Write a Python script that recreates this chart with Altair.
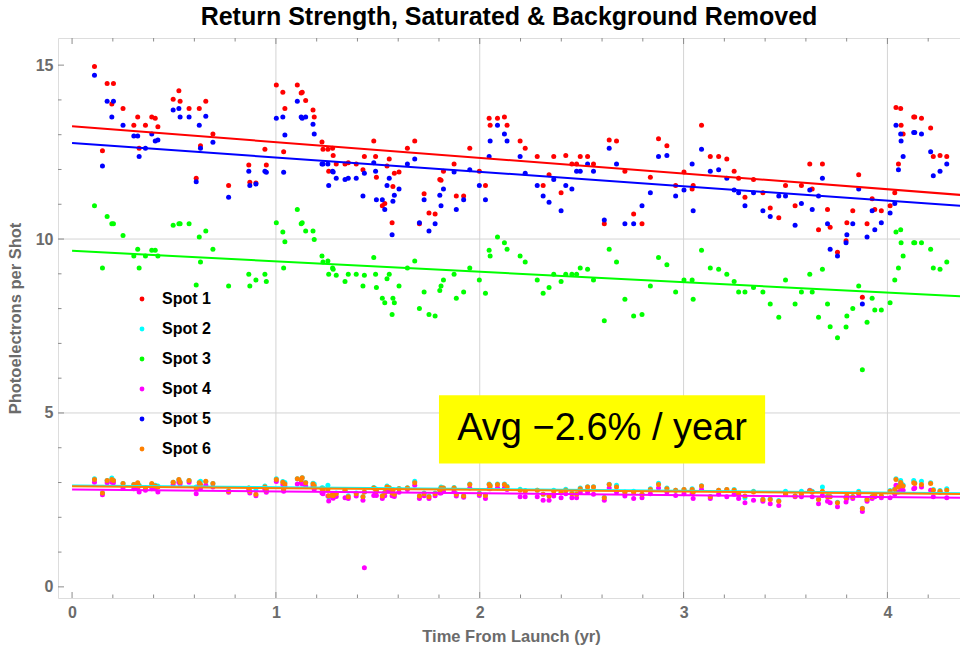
import altair as alt
import pandas as pd

# ---------------- data ----------------
t = [0.110,0.149,0.172,0.195,0.203,0.250,0.303,0.322,0.329,0.360,0.391,0.408,0.421,0.496,0.524,0.530,0.574,0.609,0.624,0.630,
     0.656,0.691,0.768,0.867,0.872,0.902,0.946,0.953,1.002,1.034,1.038,1.044,1.105,1.124,1.129,1.146,1.182,1.188,
     1.226,1.231,1.255,1.259,1.278,1.281,1.296,1.339,1.355,1.394,1.427,1.434,1.480,1.489,1.493,1.522,1.534,1.545,1.556,1.570,
     1.574,1.581,1.604,1.645,1.681,1.704,1.727,1.751,1.781,1.804,1.810,1.822,1.874,1.885,1.921,1.951,1.998,2.028,2.046,2.051,
     2.087,2.121,2.134,2.198,2.223,2.282,2.311,2.340,2.363,2.399,2.422,2.452,2.475,2.493,2.529,2.558,2.611,2.635,2.671,2.712,
     2.755,2.796,2.837,2.877,2.918,2.961,3.002,3.042,3.047,3.088,3.131,3.172,3.212,3.248,3.270,3.301,3.343,3.389,3.425,3.467,
     3.500,3.547,3.578,3.619,3.631,3.662,3.681,3.706,3.719,3.755,3.801,3.797,3.830,3.859,3.877,3.900,3.925,3.938,3.970,4.013,
     4.036,4.042,4.054,4.065,4.067,4.077,4.129,4.134,4.167,4.212,4.225,4.258,4.291]

spot1 = [14.96,12.54,14.47,13.88,14.47,13.75,13.27,13.51,12.61,13.27,13.51,13.47,13.23,14.02,14.26,13.96,13.75,11.75,13.75,12.68,
         13.96,13.02,11.54,12.13,11.63,11.61,12.58,12.13,14.43,14.22,12.51,13.75,14.43,14.20,14.22,13.98,13.71,13.51,
         12.79,12.58,12.58,11.95,12.61,12.40,12.16,12.16,12.19,12.16,11.99,12.37,12.82,12.37,11.78,10.96,11.02,12.10,12.30,10.47,
         11.51,11.89,11.93,12.61,12.82,10.44,11.30,10.75,10.72,11.71,11.69,11.95,12.16,11.24,11.24,12.61,11.95,11.54,13.47,13.27,
         13.47,13.51,13.27,12.82,12.61,12.37,11.54,11.85,12.37,11.33,12.40,12.16,12.16,12.37,12.37,12.16,10.44,12.85,12.82,11.95,
         10.72,10.44,11.78,12.88,12.68,11.54,11.93,11.44,11.54,13.27,12.37,12.37,12.30,11.95,11.75,11.20,11.71,11.33,10.89,10.61,
         11.54,10.96,11.54,12.16,11.44,10.27,12.16,10.85,10.34,9.62,10.47,9.95,10.81,11.85,8.33,10.44,11.16,10.85,10.81,10.96,
         11.33,13.78,12.16,13.75,13.27,13.02,13.51,13.51,13.47,13.19,12.37,12.40,12.37]

spot2 = [3.11,2.70,3.06,3.13,3.06,2.97,2.94,2.97,2.92,2.84,2.95,2.92,2.90,3.01,3.08,3.01,3.06,2.87,3.01,3.04,
         3.02,2.97,2.77,2.84,2.75,2.78,2.90,2.80,3.11,3.03,2.82,3.00,3.11,3.08,3.14,3.00,2.98,2.96,
         2.85,2.84,2.92,2.59,2.68,2.63,2.70,2.78,2.62,2.70,2.59,2.73,2.86,2.82,2.78,2.62,2.72,2.90,2.86,2.71,
         2.80,2.66,2.83,2.85,3.04,2.62,2.70,2.61,2.70,2.80,2.87,2.84,2.86,2.68,2.62,2.96,2.70,2.64,2.96,2.92,
         2.96,2.96,2.89,2.81,2.77,2.78,2.66,2.63,2.78,2.73,2.81,2.70,2.68,2.84,2.88,2.88,2.58,2.95,2.92,2.73,
         2.75,2.66,2.82,2.98,2.84,2.78,2.80,2.82,2.73,2.91,2.60,2.78,2.80,2.80,2.68,2.56,2.75,2.52,2.53,2.48,
         2.75,2.62,2.75,2.78,2.75,2.52,2.87,2.61,2.60,2.43,2.63,2.57,2.60,2.75,2.26,2.52,2.60,2.65,2.62,2.77,
         2.82,3.11,2.92,3.06,2.99,2.93,3.06,2.99,3.04,2.99,2.80,2.77,2.82]

spot3 = [10.96,9.17,10.65,10.44,10.44,10.10,9.51,9.71,9.17,9.51,9.68,9.68,9.51,10.40,10.44,10.44,10.44,8.68,10.06,9.34,
         10.23,9.71,8.65,8.99,8.65,8.82,8.99,8.78,10.47,10.20,9.17,9.92,10.85,10.44,10.47,10.23,10.23,9.99,
         9.51,9.34,9.37,8.99,9.17,9.13,8.96,8.78,8.99,8.99,8.65,8.96,9.47,8.99,8.61,8.30,8.17,8.86,8.99,7.83,
         8.30,8.17,8.65,9.17,9.37,8.00,8.48,7.83,7.79,8.52,8.65,8.82,8.99,8.30,8.48,9.17,8.82,8.44,9.68,9.51,
         10.06,9.89,9.71,9.51,9.34,8.82,8.44,8.61,8.99,8.78,8.99,8.99,8.99,9.17,9.13,8.82,7.65,9.71,9.34,8.27,
         7.79,7.83,8.65,9.47,9.26,8.48,8.82,8.82,8.27,9.68,9.17,9.13,8.99,8.78,8.48,8.48,8.61,8.48,8.13,7.75,
         8.82,8.13,8.48,8.99,8.48,7.75,9.13,8.13,7.48,7.16,7.79,7.47,8.00,8.65,6.24,7.61,8.30,7.96,7.96,8.17,
         8.82,10.20,9.17,10.27,9.89,9.51,9.89,9.89,9.89,9.71,9.17,9.13,9.34]

spot4 = [3.01,2.65,2.99,3.01,2.99,2.84,2.82,2.82,2.73,2.78,2.82,2.82,2.73,2.94,3.01,2.96,3.01,2.68,2.92,2.82,
         2.92,2.87,2.72,2.78,2.70,2.62,2.80,2.72,3.03,2.94,2.75,2.90,2.96,3.00,2.96,2.90,2.90,2.80,
         2.70,2.68,2.61,2.47,2.58,2.55,2.60,2.56,2.54,2.61,2.49,0.55,2.63,2.68,2.63,2.54,2.62,2.75,2.75,2.62,
         2.68,2.60,2.72,2.80,2.92,2.54,2.62,2.54,2.62,2.70,2.70,2.75,2.75,2.61,2.58,2.84,2.63,2.54,2.82,2.82,
         2.85,2.84,2.80,2.59,2.59,2.59,2.49,2.49,2.61,2.56,2.68,2.56,2.56,2.72,2.73,2.66,2.49,2.84,2.73,2.61,
         2.54,2.56,2.68,2.84,2.73,2.63,2.68,2.68,2.54,2.80,2.54,2.66,2.59,2.66,2.54,2.42,2.49,2.46,2.39,2.34,
         2.66,2.59,2.59,2.77,2.59,2.39,2.63,2.46,2.42,2.30,2.54,2.44,2.54,2.66,2.17,2.46,2.54,2.59,2.56,2.56,
         2.66,2.92,2.73,2.85,2.82,2.78,2.82,2.84,2.87,2.78,2.59,2.72,2.56]

spot5 = [14.71,12.10,13.96,13.51,13.96,13.27,12.96,12.96,12.37,12.61,13.02,12.82,12.85,13.71,13.75,13.51,13.51,11.65,13.27,12.61,
         13.53,12.78,11.20,11.95,11.54,11.58,11.95,11.92,13.47,13.51,11.92,12.99,13.96,13.51,13.47,13.51,13.30,13.02,
         12.16,12.16,12.16,11.54,11.95,11.93,11.75,11.71,11.75,11.75,11.24,11.89,12.19,11.95,11.13,11.13,10.85,11.54,11.75,10.12,
         11.09,11.26,11.44,12.16,12.30,10.47,11.13,10.23,10.44,11.26,10.96,11.44,11.93,10.85,11.13,11.99,11.54,11.13,12.37,12.82,
         13.27,13.02,12.82,12.37,11.89,11.54,11.24,11.06,11.71,10.81,11.54,11.44,11.95,11.95,12.16,11.95,10.55,12.61,12.16,10.44,
         10.44,10.96,11.33,12.37,12.40,11.24,11.41,12.16,10.81,12.58,11.95,11.99,11.75,11.41,11.33,10.96,11.33,10.81,10.65,11.24,
         11.24,10.40,11.02,11.41,10.85,11.24,11.75,10.44,9.71,9.51,10.12,9.89,10.44,11.44,8.13,10.06,10.81,10.27,10.47,10.75,
         11.02,13.27,11.99,13.02,12.82,12.37,13.06,13.06,13.02,12.51,11.82,11.95,12.16]

spot6 = [3.09,2.70,3.06,3.09,3.06,2.97,2.94,2.99,2.90,2.84,2.97,2.90,2.87,3.01,3.09,3.01,3.06,2.82,2.99,2.94,
         3.04,2.97,2.75,2.84,2.75,2.66,2.87,2.78,3.09,3.01,2.80,2.96,3.11,3.08,3.14,2.99,2.96,2.90,
         2.82,2.78,2.80,2.62,2.66,2.62,2.68,2.78,2.59,2.68,2.59,2.73,2.84,2.80,2.75,2.61,2.71,2.87,2.84,2.70,
         2.78,2.66,2.82,2.84,2.99,2.61,2.68,2.59,2.68,2.78,2.84,2.84,2.84,2.66,2.61,2.94,2.68,2.63,2.94,2.90,
         2.94,2.94,2.87,2.78,2.75,2.78,2.66,2.61,2.75,2.71,2.78,2.68,2.66,2.82,2.87,2.87,2.56,2.94,2.87,2.71,
         2.71,2.66,2.80,2.94,2.82,2.78,2.80,2.80,2.73,2.90,2.59,2.78,2.80,2.78,2.66,2.61,2.73,2.51,2.51,2.46,
         2.66,2.61,2.66,2.76,2.73,2.51,2.75,2.59,2.59,2.42,2.61,2.56,2.59,2.71,2.25,2.51,2.59,2.63,2.61,2.75,
         2.80,3.09,2.87,3.00,2.95,2.90,2.99,2.97,2.94,2.97,2.78,2.75,2.78]

spot_names = ["Spot 1", "Spot 2", "Spot 3", "Spot 4", "Spot 5", "Spot 6"]
spot_colors = ["#FF0000", "#00FFFF", "#00FF00", "#FF00FF", "#0000FF", "#FF8000"]

# linear trend lines: value at t=0 and at t=4.4
fit_t = [0.0, 4.4]
fit_start = [13.24, 2.915, 9.66, 2.80, 12.76, 2.89]
fit_end = [11.25, 2.69, 8.34, 2.56, 10.94, 2.67]

x_major = [0, 1, 2, 3, 4]
x_minor = [0.2, 0.4, 0.6, 0.8, 1.2, 1.4, 1.6, 1.8, 2.2, 2.4, 2.6, 2.8, 3.2, 3.4, 3.6, 3.8, 4.2]
y_major = [0, 5, 10, 15]
y_minor = [1, 2, 3, 4, 6, 7, 8, 9, 11, 12, 13, 14]
x_grid = [1, 2, 3, 4]
y_grid = [5, 10]

note_text = "Avg \u22122.6% / year"
note_box_x = [1.80, 3.40]
note_box_y = [3.55, 5.51]

title_text = "Return Strength, Saturated & Background Removed"
x_title = "Time From Launch (yr)"
y_title = "Photoelectrons per Shot"

# ---------------- layout ----------------
W, H = 902, 560
XDOM = [-0.069, 4.356]
YDOM = [-0.32, 15.78]
FONT = "Liberation Sans"
FRAME = "#8c8c8c"
GRID = "#d4d4d4"
LABEL = "#6b6b6b"

xs = alt.Scale(domain=XDOM, nice=False, zero=False)
ys = alt.Scale(domain=YDOM, nice=False, zero=False)

x_axis = alt.Axis(
    values=x_major, title=x_title, grid=False, ticks=False, domain=False,
    labelFont=FONT, labelFontSize=16, labelFontWeight="bold", labelColor=LABEL, labelPadding=6,
    titleFont=FONT, titleFontSize=16.5, titleFontWeight="bold", titleColor=LABEL,
    titleX=453, titleY=38, titleBaseline="middle", titleAnchor="middle")
y_axis = alt.Axis(
    values=y_major, title=y_title, grid=False, ticks=False, domain=False,
    labelFont=FONT, labelFontSize=16, labelFontWeight="bold", labelColor=LABEL, labelPadding=5,
    titleFont=FONT, titleFontSize=16.5, titleFontWeight="bold", titleColor=LABEL,
    titleX=-43, titleY=280, titleBaseline="middle", titleAngle=-90, titleAnchor="middle")

series = [spot1, spot2, spot3, spot4, spot5, spot6]
rows = []
for name, vals in zip(spot_names, series):
    for ti, v in zip(t, vals):
        rows.append({"t": ti, "v": v, "spot": name})
pts = pd.DataFrame(rows)

fit_rows = []
for name, col, a, b in zip(spot_names, spot_colors, fit_start, fit_end):
    fit_rows.append({"t": fit_t[0], "v": a, "spot": name, "col": col})
    fit_rows.append({"t": fit_t[1], "v": b, "spot": name, "col": col})
fits = pd.DataFrame(fit_rows)

xgrid = alt.Chart(pd.DataFrame({"t": x_grid})).mark_rule(color=GRID, strokeWidth=1).encode(
    x=alt.X("t:Q", scale=xs, axis=x_axis))
ygrid = alt.Chart(pd.DataFrame({"v": y_grid})).mark_rule(color=GRID, strokeWidth=1).encode(
    y=alt.Y("v:Q", scale=ys, axis=y_axis))

points = alt.Chart(pts).mark_circle(size=25, opacity=1, clip=True).encode(
    x=alt.X("t:Q", scale=xs, axis=x_axis),
    y=alt.Y("v:Q", scale=ys, axis=y_axis),
    color=alt.Color("spot:N", scale=alt.Scale(domain=spot_names, range=spot_colors),
                    legend=alt.Legend(orient="none", legendX=76, legendY=253, title=None,
                                      labelFont=FONT, labelFontSize=16, labelFontWeight="bold",
                                      labelColor="black", symbolType="circle", symbolSize=24,
                                      symbolStrokeWidth=0, rowPadding=14, labelOffset=12, padding=0)),
)

lines = alt.Chart(fits).mark_line(strokeWidth=2, clip=True).encode(
    x=alt.X("t:Q", scale=xs, axis=x_axis),
    y=alt.Y("v:Q", scale=ys, axis=y_axis),
    detail="spot:N",
    color=alt.Color("col:N", scale=None),
)

def xticks(vals, y1, y2):
    return alt.Chart(pd.DataFrame({"t": vals})).mark_rule(color=FRAME).encode(
        x=alt.X("t:Q", scale=xs, axis=x_axis), y=alt.value(y1), y2=alt.value(y2))

def yticks(vals, x1, x2):
    return alt.Chart(pd.DataFrame({"v": vals})).mark_rule(color=FRAME).encode(
        y=alt.Y("v:Q", scale=ys, axis=y_axis), x=alt.value(x1), x2=alt.value(x2))

box_df = pd.DataFrame({"t": [note_box_x[0]], "t2": [note_box_x[1]],
                       "v": [note_box_y[0]], "v2": [note_box_y[1]],
                       "xm": [(note_box_x[0] + note_box_x[1]) / 2],
                       "ym": [(note_box_y[0] + note_box_y[1]) / 2],
                       "label": [note_text]})
box = alt.Chart(box_df).mark_rect(color="#FFFF00").encode(
    x=alt.X("t:Q", scale=xs, axis=x_axis), x2="t2:Q",
    y=alt.Y("v:Q", scale=ys, axis=y_axis), y2="v2:Q")
box_text = alt.Chart(box_df).mark_text(font=FONT, fontSize=38, color="black",
                                        align="center", baseline="middle").encode(
    x=alt.X("xm:Q", scale=xs, axis=x_axis), y=alt.Y("ym:Q", scale=ys, axis=y_axis), text="label:N")

chart = alt.layer(
    xgrid, ygrid, box, box_text, points, lines,
    xticks(x_major, H, H - 6), xticks(x_minor, H, H - 3.5),
    xticks(x_major, 0, 6), xticks(x_minor, 0, 3.5),
    yticks(y_major, 0, 6), yticks(y_minor, 0, 3.5),
).properties(
    width=W, height=H,
    title=alt.TitleParams(title_text, font=FONT, fontSize=25, fontWeight="bold", color="black",
                          anchor="middle", offset=8),
    autosize=alt.AutoSizeParams(type="none"),
    padding={"left": 58, "top": 38, "right": 0, "bottom": 54},
).configure_view(stroke=FRAME, strokeWidth=1).configure(background="white")

chart.save("out.html", embed_options={"renderer": "svg", "actions": False})
